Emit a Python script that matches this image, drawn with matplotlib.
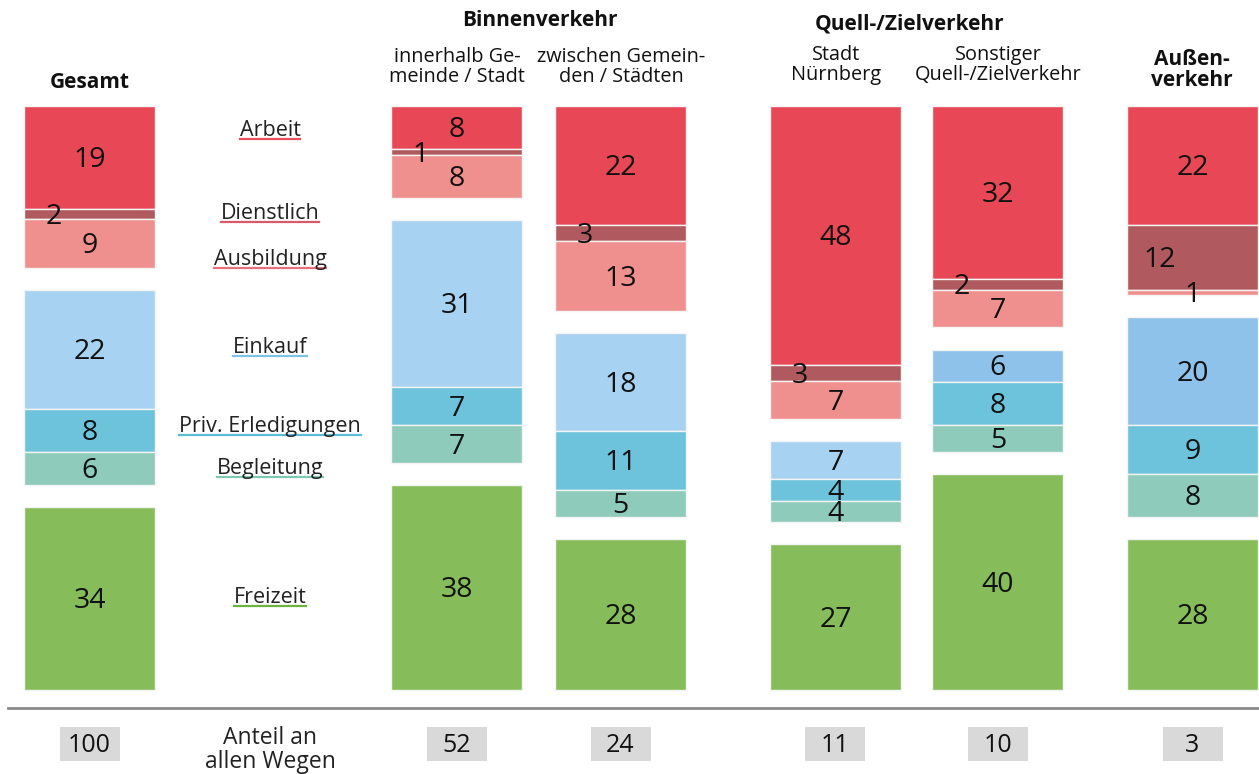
import matplotlib
matplotlib.use("Agg")
import matplotlib.pyplot as plt
from matplotlib.lines import Line2D
from matplotlib.patches import Rectangle

plt.rcParams['font.family'] = ['Open Sans', 'DejaVu Sans']

# data (shares in percent)
columns = ['Gesamt', 'innerhalb Gemeinde / Stadt', 'zwischen Gemeinden / Städten',
           'Stadt Nürnberg', 'Sonstiger Quell-/Zielverkehr', 'Außenverkehr']
categories = ['Arbeit', 'Dienstlich', 'Ausbildung', 'Einkauf',
              'Priv. Erledigungen', 'Begleitung', 'Freizeit']
arbeit = [19, 8, 22, 48, 32, 22]
dienstlich = [2, 1, 3, 3, 2, 12]
ausbildung = [9, 8, 13, 7, 7, 1]
einkauf = [22, 31, 18, 7, 6, 20]
priv = [8, 7, 11, 4, 8, 9]
begleitung = [6, 7, 5, 4, 5, 8]
freizeit = [34, 38, 28, 27, 40, 28]
anteil = [100, 52, 24, 11, 10, 3]

series = [arbeit, dienstlich, ausbildung, einkauf, priv, begleitung, freizeit]
colors = ['#E84855', '#B05A60', '#F0908E', '#A8D2F1', '#6CC3DB', '#8ECBBA', '#86BD5A']
einkauf_shade = ['#A8D2F1', '#A8D2F1', '#A8D2F1', '#A8D2F1', '#8EC2EA', '#8EC2EA']
line_colors = ['#E8505C', '#D85A66', '#E8707A', '#7FC3E3', '#5BBCD6', '#7CC8B2', '#6DB33F']
group_of = [0, 0, 0, 1, 1, 1, 2]

W, H = 1259, 774
fig = plt.figure(figsize=(W / 100, H / 100), dpi=100)
ax = fig.add_axes([0, 0, 1, 1])

top_px, scale = 106, 5.4   # pixel of value 0, pixels per percent
gap = 4.1                  # gap between the three groups (in percent units)
ax.set_xlim(0, W)
ax.set_ylim((H - top_px) / scale, -top_px / scale)
ax.axis('off')

xs = [89.5, 457, 620.5, 835.5, 998, 1192.5]
bw = 131

def T(x, y, s, **kw):
    return fig.text(x / W, 1 - y / H, s, **kw)

# stacked segments
for j, x in enumerate(xs):
    bottom = 0
    for i, vals in enumerate(series):
        if i > 0 and group_of[i] != group_of[i - 1]:
            bottom += gap
        v = vals[j]
        c = einkauf_shade[j] if i == 3 else colors[i]
        ax.bar(x, v, bottom=bottom, width=bw, color=c,
               edgecolor='#f4f4f4', linewidth=1.0)
        lx, ly = x, bottom + v / 2 + 0.5
        if v <= 3:
            lx = x - 36
        if v == 1 and j == 5:
            lx = x
        if v == 12:
            lx = x - 33
        ax.text(lx, ly, str(v), ha='center', va='center', fontsize=20.5, color='#111111')
        bottom += v

# headers
hfs = 14.3
bfs = 15
T(90, 82, 'Gesamt', ha='center', va='center', fontsize=bfs, fontweight='bold', color='#111111')
T(540, 20, 'Binnenverkehr', ha='center', va='center', fontsize=bfs, fontweight='bold', color='#111111')
T(457, 67, 'innerhalb Ge-\nmeinde / Stadt', ha='center', va='center', fontsize=hfs,
  linespacing=1.0, color='#111111')
T(621, 67, 'zwischen Gemein-\nden / Städten', ha='center', va='center', fontsize=hfs,
  linespacing=1.0, color='#111111')
T(910, 24, 'Quell-/Zielverkehr', ha='center', va='center', fontsize=bfs, fontweight='bold', color='#111111')
T(836, 65, 'Stadt\nNürnberg', ha='center', va='center', fontsize=hfs,
  linespacing=1.0, color='#111111')
T(998, 65, 'Sonstiger\nQuell-/Zielverkehr', ha='center', va='center', fontsize=hfs,
  linespacing=1.0, color='#111111')
T(1192, 70, 'Außen-\nverkehr', ha='center', va='center', fontsize=bfs, fontweight='bold',
  linespacing=1.0, color='#111111')

# category labels with coloured underline
label_y = [136, 219, 265, 353, 432, 474, 603]
labels = []
for cat, y in zip(categories, label_y):
    labels.append(T(270, y, cat, ha='center', va='baseline', fontsize=15.5, color='#222222'))
fig.canvas.draw()
r = fig.canvas.get_renderer()
for t, c, y in zip(labels, line_colors, label_y):
    bb = t.get_window_extent(r)
    yy = 1 - (y + 3) / H
    fig.add_artist(Line2D([bb.x0 / W, bb.x1 / W], [yy, yy], transform=fig.transFigure,
                          color=c, lw=1.6))

# bottom rule and share boxes
fig.add_artist(Line2D([8 / W, 1], [1 - 708 / H, 1 - 708 / H], transform=fig.transFigure,
                      color='#8a8a8a', lw=2))
for x, a in zip(xs, anteil):
    fig.add_artist(Rectangle(((x - 30) / W, 1 - 761 / H), 60 / W, 34 / H,
                             transform=fig.transFigure, color='#d9d9d9', lw=0))
    T(x, 745, str(a), ha='center', va='center', fontsize=18, color='#111111')
T(270, 750, 'Anteil an\nallen Wegen', ha='center', va='center', fontsize=16.5,
  linespacing=0.95, color='#222222')

fig.savefig('out.png', dpi=100, facecolor='white')
